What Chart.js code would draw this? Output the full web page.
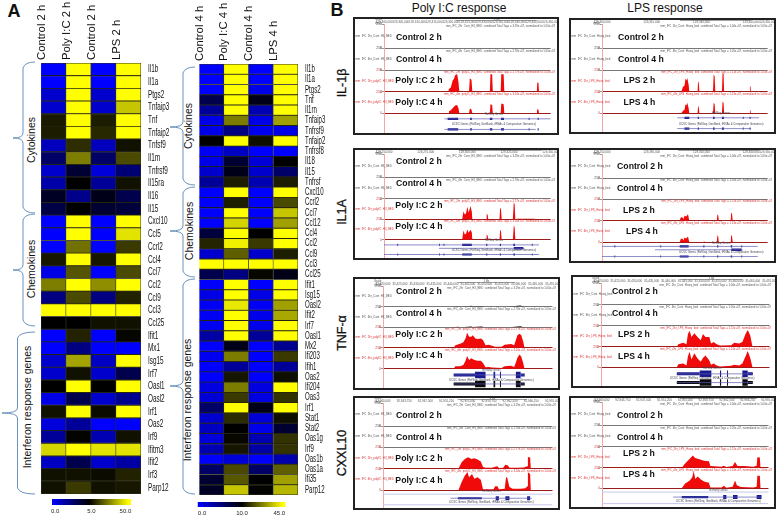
<!DOCTYPE html>
<html><head><meta charset="utf-8">
<script src="https://cdn.jsdelivr.net/npm/chart.js@4"></script>
<style>
html,body{margin:0;padding:0;background:#fff;width:778px;height:517px;overflow:hidden}
canvas{position:absolute;display:block;filter:blur(.3px)}
.t{position:absolute;font-family:"Liberation Sans",Arial,sans-serif;color:#111;white-space:nowrap;transform:translate(-50%,-50%)}
.r{transform:translate(-50%,-50%) rotate(-90deg)}
.frame{position:absolute;border:2px solid #222;box-sizing:border-box;pointer-events:none}
svg{position:absolute;left:0;top:0}
</style></head><body>
<script>
/* ---------- heatmap data ---------- */
const colsA=['Control 2 h','Poly I:C 2 h','Control 2 h','LPS 2 h'];
const colsB=['Control 4 h','Poly I:C 4 h','Control 4 h','LPS 4 h'];
const genesA=['Il1b','Il1a','Ptgs2','Tnfaip3','Tnf','Tnfaip2','Tnfsf9','Il1rn','Tnfrsf9','Il15ra','Il16','Il15','Cxcl10','Ccl5','Ccrl2','Ccl4','Ccl7','Ccl2','Ccl9','Ccl3','Ccl25','Ifit1','Mx1','Isg15','Irf7','Oasl1','Oasl2','Irf1','Oas2','Irf9','Ifitm3','Ifit2','Irf3','Parp12'];
const ctrlA1=[0,0,1,1,9.5,10,1.3,3,1,1.7,4.3,3.6,0,0,0,9,0.5,27,2.5,50,5,0,0,1,1,5,0.5,8,0.7,2,43,1.2,8,8];
const picA=[50,50,50,50,50,50,13,27,4,5,2.3,5,50,50,25,50,20,50,18,50,5,11,2.5,34,8,50,3.5,50,2,5.5,50,3.5,8,15];
const ctrlA2=[0,0,1,1,10,12,1.3,3,0.7,2,4.5,4,0,0,0,9,0,30,2.5,50,8,0,0,1.2,1,5,1,7,0,1.5,45,1,7,8];
const lpsA=[50,50,50,40,50,50,8,18,2.7,8,3.5,3.8,50,45,15,50,18,50,11,50,8,6,0,50,3.5,50,2.2,50,0,8,45,1.8,11,9];
const genesB=['Il1b','Il1a','Ptgs2','Tnf','Il1rn','Tnfaip3','Tnfrsf9','Tnfaip2','Tnfrsf8','Il18','Il15','Tnfrsf','Cxcl10','Ccrl2','Ccl7','Ccl12','Ccl4','Ccl2','Ccl9','Ccl3','Ccl25','Ifit1','Isg15','Oasl2','Ifit2','Irf7','Oasl1','Mx2','Ifi203','Ifih1','Oas2','Ifi204','Oas3','Irf1','Stat1','Stat2','Oas1g','Irf9','Oas1b','Oas1a','Ifi35','Parp12'];
const ctrlB1=[0,0,0,7,4,1,1,10,0.4,1,2,4,0,0,0,0,7.6,15,2,45,7,0,1,0.4,0.4,0.6,3.6,0,0.6,0,0,1.2,1.6,6,2,2.4,1.4,3,0,6,8,8.6];
const picB=[45,45,45,45,45,27,5,45,2.4,8,9,14,45,14,45,39,45,43,23,45,5,45,45,42,45,45,45,9,27,4,13,27,18,45,16,10,11,13,1.6,20,22,37];
const ctrlB2=[0,0,1,9,3,1,0.6,12,0,1.6,2,3,0,0,0,0,10,18,2,45,11,0,1,0.4,0.8,0.8,4,0,0,0,0,1.2,1.2,9,1.6,0.8,3,3.6,0,6,10,10.4];
const lpsB=[45,45,45,45,45,32,1,45,0,10,6,14,45,20,37,32,45,45,14,45,9,45,45,32,33,45,45,4.4,18,4,12,45,17,45,12,8,17,17,3.2,23,32,35];
const legendLabelsA=['0.0','5.0','50.0'];
const legendLabelsB=['0.0','10.0','45.0'];

/* ---------- track profiles: [position % of window, tag height] ---------- */
const flatTrack=[[0,0],[100,0]];
const il1bPic2h=[[0,0],[38.5,0],[38.8,30],[40.1,50],[41.2,130],[42,150],[42.7,190],[43.9,205],[44.7,110],[45.2,0],[51,0],[51.5,155],[52.5,140],[53,0],[63.5,0],[63.9,205],[64.9,200],[65.3,0],[70,0],[70.4,205],[71.8,200],[72.2,0],[91.7,0],[92,110],[92.7,100],[93,0],[100,0]];
const il1bPic4h=[[0,0],[38.5,0],[39,25],[40.1,35],[41.2,60],[42,75],[42.7,90],[43.9,95],[44.7,55],[45.2,0],[51,0],[51.5,57],[52.5,45],[53,0],[63.5,0],[63.9,106],[64.9,95],[65.3,0],[70,0],[70.4,114],[71.8,105],[72.2,0],[91.7,0],[92,50],[92.7,42],[93,0],[100,0]];
const il1aPic2h=[[0,0],[46.9,0],[47.7,95],[48.5,57],[49.2,70],[50,152],[50.8,80],[51.9,160],[52.7,90],[53,0],[61.3,0],[61.6,68],[62.2,50],[62.6,0],[69.3,0],[69.7,140],[70.2,120],[70.6,0],[77.3,0],[77.9,209],[78.4,180],[78.8,0],[80,6],[90,6],[92,0],[100,0]];
const il1aPic4h=[[0,0],[46.9,0],[47.7,114],[48.5,65],[49.2,75],[50,125],[50.8,85],[51.9,122],[52.7,90],[53,0],[61.3,0],[61.6,68],[62.2,50],[62.6,0],[69.3,0],[69.7,122],[70.2,105],[70.6,0],[77.3,0],[77.9,178],[78.4,150],[78.8,0],[100,0]];
const tnfPic2h=[[0,0],[41.7,0],[42.7,30],[45.5,50],[47.4,68],[48.7,114],[49.6,182],[50.8,133],[52.1,133],[53,152],[54.5,114],[55.8,106],[57.7,114],[59,95],[60.5,30],[62.4,38],[64.3,23],[66.2,11],[69.9,11],[71.8,38],[75.6,46],[77.4,30],[78.4,95],[79.3,152],[80.6,171],[81.6,152],[82.7,76],[83.5,0],[100,0]];
const tnfPic4h=[[0,0],[41.7,0],[42.7,30],[45.5,30],[47.4,46],[48.7,95],[49.6,152],[50.8,106],[52.1,125],[53,114],[54.5,103],[55.8,95],[57.7,95],[59,68],[60.5,19],[62.4,23],[64.3,15],[69.9,11],[71.8,30],[75.6,38],[77.4,23],[78.4,76],[79.3,133],[80.6,171],[81.6,144],[82.7,68],[83.5,0],[100,0]];
const tnfPicControl=[[0,0],[42,0],[44,5],[46,0],[50,4],[52,9],[53,3],[58,8],[60,0],[74,0],[78,6],[81,12],[83,0],[100,0]];
const cxclPic2h=[[0,0],[44.5,0],[46.4,76],[48.3,114],[50.2,133],[52.1,114],[53.9,122],[55.8,106],[57.7,84],[59,19],[60.5,11],[64.3,11],[66.2,23],[67.5,30],[68.4,8],[70.9,11],[72.2,46],[73.7,38],[74.6,11],[79.3,11],[83.1,15],[85,30],[85.5,133],[86.8,133],[87.2,0],[100,0]];
const cxclPic4h=[[0,0],[44.5,0],[46.4,95],[48.3,171],[49.8,209],[50.8,152],[52.5,190],[53.9,133],[55.8,152],[57.7,122],[59,11],[65.2,11],[66.2,46],[67.5,46],[68.4,11],[71.8,19],[72.6,152],[73.3,144],[74.6,38],[76.5,19],[81.2,19],[84,23],[85.2,46],[85.5,209],[86.8,190],[87.2,0],[100,0]];
const il1bLps2h=[[0,0],[47.9,0],[48.9,57],[49.8,70],[50.4,152],[50.9,130],[51.5,160],[52.3,80],[52.7,0],[57.7,0],[58,122],[58.4,105],[58.8,0],[67,0],[67.4,198],[68,180],[68.4,0],[72.4,0],[72.8,220],[73.4,205],[73.7,0],[89,0],[89.3,68],[89.7,55],[89.8,0],[100,0]];
const il1bLps4h=[[0,0],[47.9,0],[48.9,30],[49.8,40],[50.4,106],[50.9,90],[51.5,122],[52.3,60],[52.7,0],[57.7,0],[58,84],[58.4,70],[58.8,0],[67,0],[67.4,122],[68,105],[68.4,0],[72.4,0],[72.8,137],[73.4,120],[73.7,0],[89,0],[89.3,38],[89.7,30],[89.8,0],[100,0]];
const il1aLps2h=[[0,0],[46.9,0],[47.5,38],[48.5,40],[49.2,20],[49.8,57],[50.8,50],[51.9,76],[52.7,0],[61.2,0],[61.5,19],[61.9,0],[69.3,0],[69.7,76],[70.2,60],[70.5,0],[77.7,0],[78,95],[78.5,80],[78.9,0],[100,0]];
const il1aLps4h=[[0,0],[46.9,0],[47.5,38],[48.5,45],[49.2,20],[49.8,57],[50.8,45],[51.9,68],[52.7,0],[61.2,0],[61.5,23],[61.9,0],[69.3,0],[69.7,84],[70.2,65],[70.5,0],[77.7,0],[78,84],[78.5,70],[78.9,0],[100,0]];
const tnfLps2h=[[0,0],[45,0],[45.9,30],[48.8,46],[50.7,30],[51.6,152],[52.6,190],[53.7,114],[55.4,160],[57.3,114],[59.2,76],[60.5,152],[62,114],[64.3,114],[65.3,38],[66.8,57],[68.7,30],[70.6,15],[77.2,19],[79.1,46],[82,38],[83.9,57],[85.8,152],[87.1,198],[88.6,133],[89.9,0],[100,0]];
const tnfLps4h=[[0,0],[45,0],[45.9,38],[48.8,46],[50.7,23],[51.6,133],[52.6,190],[53.7,95],[55.4,171],[57.3,106],[59.2,68],[60.5,114],[62,144],[64.3,84],[65.3,30],[66.8,46],[68.7,23],[70.6,11],[77.2,19],[79.1,30],[82,23],[83.9,46],[85.8,133],[87.1,198],[88.6,114],[89.9,0],[100,0]];
const cxclLps2h=[[0,0],[47.9,0],[49.8,46],[52.7,106],[54.6,144],[55.9,114],[57.5,106],[59.4,95],[61.3,84],[64.2,76],[65.1,19],[71.8,11],[73.2,23],[74.7,8],[78.5,19],[79.9,68],[81.4,19],[85.2,19],[91,11],[92.9,23],[93.3,125],[94.8,122],[95.2,0],[100,0]];
const cxclLps4h=[[0,0],[47.9,0],[49.8,57],[52.7,95],[54.2,133],[55.1,209],[56,114],[57.5,144],[59.4,106],[61.3,84],[64.2,68],[65.1,11],[71.8,11],[73.2,30],[74.7,8],[78.5,19],[79.9,95],[81,38],[83.3,15],[91,11],[92.9,19],[93.3,152],[94.8,152],[95.2,0],[100,0]];

/* ---------- gene models: exon spans in % of window ---------- */
const il1bPicExons=[[38.2,44.5],[51.7,52.7],[63.5,65],[70.2,72],[86.8,87.3],[92.2,92.8]];
const il1bLpsExons=[[49.8,52.7],[57.8,58.5],[67,68],[72.4,73.6],[85,85.5],[89.1,89.7]];
const il1aPicExons=[[8,8.5],[33,33.5],[35.7,36.2],[46.9,52.7],[61.3,62],[69.5,70.2],[77.6,78.6],[83.5,84],[88.7,89.2]];
const il1aLpsExons=[[7.5,8],[32,32.5],[35.2,35.7],[46.9,52.3],[61.2,61.8],[69.5,70.2],[77.7,78.6],[84.1,84.6],[88.8,89.3]];
const il1aMidExonsPic=[[77.9,83.6]];
const il1aMidExonsLps=[[78,84.3]];
const tnfPicThin=[[41.7,54.3],[81.2,83.6]];
const tnfPicThick=[[54.3,60.5],[65.2,66.2],[69,69.6],[78.4,81.2]];
const tnfLpsThin=[[45,58.6],[87.1,90.1]];
const tnfLpsThick=[[58.6,65.5],[70.6,71.3],[74.8,75.4],[83.9,87.1]];
const cxclPicThin=[[44.2,58.3]];
const cxclPicThick=[[66.5,68.4],[72.2,74.6],[85,86.8]];
const cxclLpsThin=[[47.9,63.8]];
const cxclLpsThick=[[72.8,74.7],[78.7,81.4],[92.9,95.8]];

const controlLabels2='Control 2 h',controlLabels4='Control 4 h';

/* ---------- helpers ---------- */
const FONT='"Liberation Sans",Arial,sans-serif';
Chart.defaults.animation=false;
Chart.defaults.responsive=false;
function mk(x,y,w,h){const c=document.createElement('canvas');c.width=w;c.height=h;c.style.left=x+'px';c.style.top=y+'px';c.style.width=w+'px';c.style.height=h+'px';document.body.appendChild(c);return c;}
function heatColor(v,mid,max){
  if(v<=mid){const t=v/mid;return `rgb(0,0,${Math.round(255*(1-t))})`;}
  const t=Math.min(1,(v-mid)/(max-mid));const c=Math.round(255*t);return `rgb(${c},${c},0)`;
}
function heatmap(box,cols,genes,series,mid,max,labelPad,fontSize,squeeze){
  const [x,y,pw,ph,top,gutter]=box;
  const squeezedLabels={id:'squeezed',afterDraw(ch){
    const s=ch.scales.y,c=ch.ctx;c.save();c.fillStyle='#111';c.font=`${fontSize}px ${FONT}`;c.textBaseline='middle';c.textAlign='left';
    genes.forEach((g,i)=>{c.save();c.translate(ch.chartArea.right+labelPad,s.getPixelForValue(i));c.scale(squeeze,1);c.fillText(g,0,0);c.restore();});
    c.restore();}};
  new Chart(mk(x,y,pw+gutter,ph+top),{
    type:'bar',
    data:{labels:genes,datasets:series.map(s=>({data:s.map(()=>1),backgroundColor:s.map(v=>heatColor(v,mid,max)),borderColor:'rgba(25,25,5,.9)',borderWidth:.8,barPercentage:1,categoryPercentage:1}))},
    plugins:[squeezedLabels],
    options:{indexAxis:'y',layout:{autoPadding:false,padding:0},plugins:{legend:{display:false},tooltip:{enabled:false}},
      scales:{
        x:{stacked:true,min:0,max:4,display:false},
        xc:{axis:'x',type:'category',labels:cols,position:'top',offset:true,grid:{display:false,drawTicks:false},border:{display:false},
          ticks:{minRotation:90,maxRotation:90,padding:3,labelOffset:1.5,autoSkip:false,color:'#111',font:{family:FONT,size:11.3}},afterFit(s){s.height=top;}},
        y:{stacked:true,position:'right',grid:{display:false,drawTicks:false},border:{display:false},
          ticks:{display:false},afterFit(s){s.width=gutter;}}
      }}
  });
}
function colorBar(box,labels,tickPos,blackAt){
  const [x,y,w,h,below]=box;
  new Chart(mk(x,y,w,h+below),{
    type:'bar',
    data:{labels:['scale'],datasets:[{data:[100],barPercentage:1,categoryPercentage:1,
      backgroundColor(c){const a=c.chart.chartArea;if(!a)return '#000';const g=c.chart.ctx.createLinearGradient(a.left,0,a.right,0);
        g.addColorStop(0,'#0000ff');g.addColorStop(blackAt,'#000');g.addColorStop(.97,'#ffff00');g.addColorStop(1,'#ffff00');return g;}}]},
    options:{indexAxis:'y',layout:{autoPadding:false,padding:0},plugins:{legend:{display:false},tooltip:{enabled:false}},
      scales:{y:{display:false},
        x:{min:0,max:100,grid:{display:false,drawTicks:false},border:{display:false},
          afterBuildTicks(s){s.ticks=tickPos.map(v=>({value:v}));},
          ticks:{autoSkip:false,maxRotation:0,padding:3,color:'#222',font:{family:FONT,size:6},callback:(v,i)=>labels[i]},
          afterFit(s){s.height=below;}}}}
  });
}
function tracksPanel(p){
  const [fx,fy,fw,fh]=p.frame, H=fh, W=fw;
  const lines=p.lines, top=lines[0]-fy, left=p.red-fx;
  const heights=[lines[1]-lines[0],lines[2]-lines[1],lines[3]-lines[2],lines[4]-lines[3],fy+fh-lines[4]];
  const scales={};
  scales.yg={stack:'t',stackWeight:heights[4],position:'left',min:0,max:100,grid:{display:false},border:{display:true,color:'#f6a5a5'},ticks:{display:false},afterFit(s){s.width=left;}};
  for(let i=3;i>=0;i--){
    const red=i>1, col=red?'#9c1c1c':'#777';
    scales['y'+i]={stack:'t',stackWeight:heights[i],position:'left',min:0,max:250,
      afterBuildTicks(s){s.ticks=[{value:0},{value:250}];},
      grid:{color:c=>c.tick&&c.tick.value===0?col:'transparent',lineWidth:1,tickLength:2,tickColor:'#999'},
      border:{display:true,color:'#f6a5a5'},
      ticks:{autoSkip:false,padding:0,color:red?'#c44':'#555',font:{family:FONT,size:3.4}},afterFit(s){s.width=left;}};
  }
  scales.x={type:'linear',position:'top',min:0,max:100,grid:{display:false,drawTicks:false},border:{display:false},
    ticks:{stepSize:p.rulerStep,autoSkip:false,maxRotation:0,padding:0,color:'#555',font:{family:FONT,size:3},
      callback:v=>(p.rulerStart+v*p.rulerUnit).toLocaleString('en-US')},afterFit(s){s.height=top;}};
  const ds=[];
  p.tracks.forEach((t,i)=>ds.push({type:'line',yAxisID:'y'+i,data:t.map(([x,y])=>({x,y})),borderWidth:0,pointRadius:0,tension:0,fill:'origin',
    backgroundColor:i>1?'#f00a0a':'#111'}));
  p.bands.forEach(y=>ds.push({type:'line',yAxisID:'yg',data:[{x:0,y},{x:100,y}],borderColor:'#c8c8e8',borderWidth:1,pointRadius:0}));
  p.rows.forEach(r=>{
    const col=r.color||'#1a1a90';
    ds.push({type:'line',yAxisID:'yg',data:[{x:r.from,y:r.y},{x:r.to,y:r.y}],borderColor:r.lineColor||'#5a5ab0',borderWidth:.7,pointRadius:0});
    const seg=(list,w)=>{if(list)ds.push({type:'line',yAxisID:'yg',data:list.flatMap(([a,b])=>[{x:a,y:r.y},{x:b,y:r.y},{x:b,y:null}]),borderColor:col,borderWidth:w,pointRadius:0,spanGaps:false,borderCapStyle:'butt'});};
    seg(r.thin,r.thinW||2.2); seg(r.thick,r.thickW||3.5);
  });
  const overlay={id:'ov'+p.name,afterDatasetsDraw(ch){
    const c=ch.ctx;c.save();
    const xs=ch.scales.x;
    c.strokeStyle='#666';c.lineWidth=.6;c.beginPath();
    const y0=lines[0]-fy-3.5;
    c.moveTo(xs.getPixelForValue(p.bar[0]),y0);c.lineTo(xs.getPixelForValue(p.bar[1]),y0);c.stroke();
    c.textBaseline='middle';c.textAlign='left';c.fillStyle='#555';c.font=`3px ${FONT}`;
    c.fillText('Scale',left-9,y0-1);c.fillText(p.chrom+':',left-9,y0+2.5);
    c.textAlign='center';c.fillText('1 kb',xs.getPixelForValue((p.bar[0]+p.bar[1])/2),y0-1);
    p.trackIds.forEach((id,i)=>{
      const a=ch.scales['y'+i];const red=i>1;
      c.fillStyle=red?'#d33':'#555';
      c.textAlign='left';c.font=`2.8px ${FONT}`;c.fillText(id,2.5,(a.top+a.bottom)/2);
      c.textAlign='right';c.fillText(id+'_combined Total Tags = '+p.tags[i]+', normalized to 1.00e+07',W-p.tagRight,a.top+2.5);
    });
    c.fillStyle='#445';c.textAlign='center';c.font=`2.8px ${FONT}`;
    c.fillText('RefSeq Genes',xs.getPixelForValue(p.capX),ch.scales.yg.getPixelForValue(p.capY[0]));
    c.fillText('UCSC Genes (RefSeq, GenBank, tRNAs & Comparative Genomics)',xs.getPixelForValue(p.capX),ch.scales.yg.getPixelForValue(p.capY[1]));
    c.fillStyle='#111';c.font=`bold 8.7px ${FONT}`;c.textAlign='center';
    p.names.forEach((n,i)=>{c.fillText(n,p.nameX[i]-fx,p.nameY[i]-fy);});
    c.restore();
  }};
  new Chart(mk(fx,fy,W,H),{type:'line',data:{datasets:ds},plugins:[overlay],
    options:{layout:{autoPadding:false,padding:0},plugins:{legend:{display:false},tooltip:{enabled:false}},scales}});
  const f=document.createElement('div');f.className='frame';f.style.cssText=`left:${fx}px;top:${fy}px;width:${fw}px;height:${fh}px`;document.body.appendChild(f);
}
/* ---------- page text ---------- */
function txt(s,x,y,size,weight,rot,stroke){const d=document.createElement('div');d.className='t'+(rot?' r':'');d.textContent=s;d.style.left=x+'px';d.style.top=y+'px';d.style.fontSize=size+'px';if(weight)d.style.fontWeight=weight;if(stroke)d.style.webkitTextStroke=stroke+'px #111';document.body.appendChild(d);}
txt('A',14,11,18,'bold');txt('B',337,10,18,'bold');
txt('Poly I:C response',459,7.5,12);txt('LPS response',665,7.5,12);
txt('IL-1β',341.5,83,12.5,0,true,.3);txt('IL1A',341.5,212,12.5,0,true,.3);txt('TNF-α',341.5,332.5,12.5,0,true,.3);txt('CXXL10',341.5,453,12.5,0,true,.3);
txt('Cytokines',31,140,10.5,0,true);txt('Chemokines',31,269,10.5,0,true);txt('Interferon response genes',27,406.5,10.5,0,true);
txt('Cytokines',187.5,126,10.5,0,true);txt('Chemokines',189,231,10.5,0,true);txt('Interferon response genes',187,400,10.5,0,true);
function brace(ex,sx,tx,y0,ym,y1){return `M${ex} ${y0}Q${sx+2} ${y0} ${sx} ${y0+6}L${sx} ${ym-5}Q${sx} ${ym} ${tx} ${ym}Q${sx} ${ym} ${sx} ${ym+5}L${sx} ${y1-6}Q${sx+2} ${y1} ${ex} ${y1}`;}
const paths=[brace(35,23,13,62,138,213),brace(35,23,13,214,270,326),brace(35,17.5,2,332,413,494),brace(195,183,170,67,127,185),brace(195,183,170,187,231,277),brace(195,183,170,279,386,494)];
document.body.insertAdjacentHTML('beforeend',`<svg width="778" height="517" fill="none" stroke="#6a93bd" stroke-width="1">${paths.map(d=>`<path d="${d}"/>`).join('')}</svg>`);
/* ---------- heatmaps ---------- */
heatmap([37,0,104,431,63,42],colsA,genesA,[ctrlA1,picA,ctrlA2,lpsA],5,50,7,11,.58);
heatmap([195,0,103,431,64,42],colsB,genesB,[ctrlB1,picB,ctrlB2,lpsB],10,45,7,10.5,.58);
colorBar([48,499,86,6,13],legendLabelsA,[4,50,93],.47);
colorBar([195,502,93,5,12],legendLabelsB,[5,50.5,93],.5);
/* ---------- track panels ---------- */
const picIds=['mm_IFC_2hr_Cont_H3_BED','mm_IFC_4hr_Cont_H3_BED','mm_IFC_2hr_polyIC_H3_BED','mm_IFC_4hr_polyIC_H3_BED'];
const lpsIds=['mm_IFC_2hr_Cont_Hiseq_bed','mm_IFC_4hr_Cont_Hiseq_bed','mm_IFC_2hr_LPS_Hiseq_bed','mm_IFC_4hr_LPS_Hiseq_bed'];
const picTags=['3.29e+07','2.78e+07','2.77e+07','3.24e+07'],lpsTags=['1.04e+07','1.05e+07','1.11e+07','1.13e+07'];
const picNames=[controlLabels2,controlLabels4,'Poly I:C 2 h','Poly I:C 4 h'],lpsNames=[controlLabels2,controlLabels4,'LPS 2 h','LPS 4 h'];
const B=(x,n=4)=>Array(n).fill(x);
tracksPanel({name:'p1',frame:[353,17,206,118],red:384,lines:[24,49,71,93,115],tracks:[flatTrack,flatTrack,il1bPic2h,il1bPic4h],
  trackIds:picIds,tags:picTags,tagRight:4,names:picNames,nameX:B(419),nameY:[38,59.5,81,102.5],chrom:'chr2',bar:[43,92],rulerStart:129300000,rulerUnit:500,rulerStep:10,capX:66,capY:[95,45],bands:[],
  rows:[{y:72,from:36.3,to:100,thin:il1bPicExons},{y:18,from:36.3,to:91,thin:il1bPicExons}]});
tracksPanel({name:'p2',frame:[353,148,206,112],red:384,lines:[154,178,199.5,220.5,241.5],tracks:[flatTrack,flatTrack,il1aPic2h,il1aPic4h],
  trackIds:picIds,tags:picTags,tagRight:4,names:picNames,nameX:B(419),nameY:[162,184,205.5,226.5],chrom:'chr2',bar:[45,95],rulerStart:129250000,rulerUnit:1000,rulerStep:25,capX:66,capY:[98,45],bands:[],
  rows:[{y:72,from:0,to:93,thin:il1aPicExons},{y:53,from:33,to:84,thin:il1aMidExonsPic,thinW:2.5},{y:19,from:0,to:93,thin:il1aPicExons}]});
tracksPanel({name:'p3',frame:[353,277,207,113],red:383,lines:[286,307,328,349,370.5],tracks:[tnfPicControl,tnfPicControl,tnfPic2h,tnfPic4h],
  trackIds:picIds,tags:picTags,tagRight:4,names:picNames,nameX:B(419),nameY:[292,313.5,335,356],chrom:'chr17',bar:[44,78],rulerStart:35420000,rulerUnit:500,rulerStep:10,capX:64,capY:[95,42],bands:[],
  rows:[{y:68,from:41.7,to:83.6,thin:tnfPicThin,thick:tnfPicThick,thinW:3,thickW:6.5},{y:21,from:41.7,to:83.6,thin:tnfPicThin,thick:tnfPicThick,color:'#0a0a10',thinW:3,thickW:6.5}]});
tracksPanel({name:'p4',frame:[353,396,207,114],red:383,lines:[403,426.5,448,470,492],tracks:[flatTrack,flatTrack,cxclPic2h,cxclPic4h],
  trackIds:picIds,tags:picTags,tagRight:4,names:picNames,nameX:B(419),nameY:[416,437.5,459,480.5],chrom:'chr5',bar:[44,85],rulerStart:92940000,rulerUnit:300,rulerStep:12.5,capX:64,capY:[92,30],bands:[78,18],
  rows:[{y:55,from:39.8,to:87.8,thin:cxclPicThin,thick:cxclPicThick,thinW:2.2,thickW:4}]});
tracksPanel({name:'p5',frame:[569,18,207,116],red:602,lines:[24,49,71,93,115],tracks:[flatTrack,flatTrack,il1bLps2h,il1bLps4h],
  trackIds:lpsIds,tags:lpsTags,tagRight:4,names:lpsNames,nameX:[641,641,639.5,639.5],nameY:[38,59.5,81,102.5],chrom:'chr2',bar:[47,90],rulerStart:129300000,rulerUnit:500,rulerStep:30,capX:72,capY:[98,42],bands:[],
  rows:[{y:76,from:45.4,to:94.8,thin:il1bLpsExons},{y:18,from:45.4,to:90,thin:il1bLpsExons}]});
tracksPanel({name:'p6',frame:[569,148,207,115],red:602,lines:[154,178.5,200,222,244],tracks:[flatTrack,flatTrack,il1aLps2h,il1aLps4h],
  trackIds:lpsIds,tags:lpsTags,tagRight:4,names:lpsNames,nameX:[640,640,639,642],nameY:[167,189,210.5,232],chrom:'chr2',bar:[46,95],rulerStart:129250000,rulerUnit:1000,rulerStep:30,capX:72,capY:[95,45],bands:[],
  rows:[{y:78,from:0,to:94,thin:il1aLpsExons},{y:60,from:32,to:85,thin:il1aMidExonsLps,thinW:2.5},{y:24,from:0,to:94,thin:il1aLpsExons}]});
tracksPanel({name:'p7',frame:[571,275,206,113],red:601,lines:[283,305,326.5,348,369],tracks:[flatTrack,flatTrack,tnfLps2h,tnfLps4h],
  trackIds:lpsIds,tags:lpsTags,tagRight:6,names:lpsNames,nameX:[635,635,634,634],nameY:[292,313.5,335,357],chrom:'chr17',bar:[47,84],rulerStart:35420000,rulerUnit:500,rulerStep:10,capX:66,capY:[95,42],bands:[],
  rows:[{y:65,from:45,to:90.1,thin:tnfLpsThin,thick:tnfLpsThick,thinW:3,thickW:6.5},{y:18,from:45,to:90.1,thin:tnfLpsThin,thick:tnfLpsThick,color:'#0a0a10',thinW:3,thickW:6.5}]});
tracksPanel({name:'p8',frame:[569,396,207,113],red:602,lines:[402,426,447.5,469,490],tracks:[flatTrack,flatTrack,cxclLps2h,cxclLps4h],
  trackIds:lpsIds,tags:lpsTags,tagRight:4,names:lpsNames,nameX:[640,640,639,639],nameY:[416,437.5,453.5,475],chrom:'chr5',bar:[47,93],rulerStart:92940000,rulerUnit:300,rulerStep:12.5,capX:70,capY:[92,30],bands:[80,18],
  rows:[{y:53,from:42.7,to:95.8,thin:cxclLpsThin,thick:cxclLpsThick,thinW:2.2,thickW:4}]});
</script>
</body></html>
